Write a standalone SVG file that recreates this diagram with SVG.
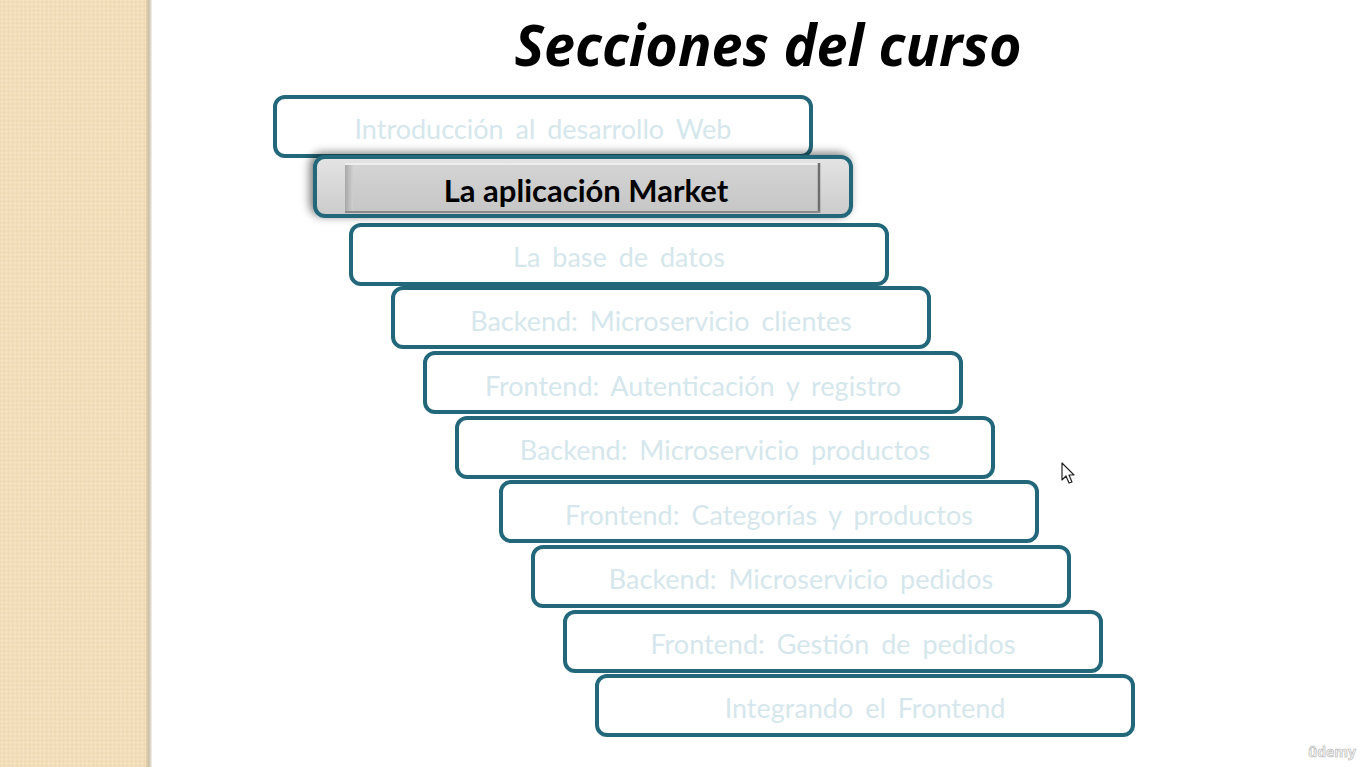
<svg xmlns="http://www.w3.org/2000/svg" width="1365" height="767" viewBox="0 0 1365 767">
<defs>
  <pattern id="chk" width="6" height="6" patternUnits="userSpaceOnUse" patternTransform="rotate(45)">
    <rect width="6" height="6" fill="#f5e2c1"/>
    <rect width="3" height="3" fill="#f0dab4"/>
    <rect x="3" y="3" width="3" height="3" fill="#f0dab4"/>
  </pattern>
  <linearGradient id="edge" x1="0" y1="0" x2="1" y2="0">
    <stop offset="0" stop-color="#e6d2ad"/>
    <stop offset="0.5" stop-color="#c9c0a8"/>
    <stop offset="1" stop-color="#f4f2ee"/>
  </linearGradient>
  <linearGradient id="hlOuter" x1="0" y1="0" x2="0" y2="1">
    <stop offset="0" stop-color="#e4e4e4"/>
    <stop offset="1" stop-color="#cbcbcb"/>
  </linearGradient>
  <linearGradient id="hlInner" x1="0" y1="0" x2="0" y2="1">
    <stop offset="0" stop-color="#d4d4d4"/>
    <stop offset="1" stop-color="#c6c6c6"/>
  </linearGradient>
  <linearGradient id="bevelL" x1="0" y1="0" x2="1" y2="0">
    <stop offset="0" stop-color="#a8a8a8"/>
    <stop offset="1" stop-color="#cfcfcf"/>
  </linearGradient>
  <filter id="shadow" x="-10%" y="-40%" width="120%" height="180%">
    <feDropShadow dx="-3" dy="-2" stdDeviation="5" flood-color="#000" flood-opacity="0.55"/>
  </filter>
  <style>
    .box { fill: #ffffff; stroke: #22677a; stroke-width: 4; }
    .lbl { font-family: Lato, "Open Sans", "Liberation Sans", sans-serif; font-size: 27px; fill: #d5e7ec; text-anchor: middle; word-spacing: 5px; }
    .title { font-family: "Open Sans", "Liberation Sans", sans-serif; font-weight: bold; font-style: italic; font-size: 58px; fill: #000; text-anchor: middle; }
    .hl { font-family: Lato, "Open Sans", "Liberation Sans", sans-serif; font-weight: bold; font-size: 31px; fill: #000; text-anchor: middle; }
  </style>
</defs>

<!-- background -->
<rect x="0" y="0" width="1365" height="767" fill="#ffffff"/>
<rect x="0" y="0" width="149" height="767" fill="url(#chk)"/>
<rect x="146" y="0" width="6" height="767" fill="url(#edge)"/>

<!-- title -->
<text class="title" x="768" y="66" textLength="507" lengthAdjust="spacingAndGlyphs">Secciones del curso</text>

<g id="nodes">
  <g id="n1"><rect class="box" x="275" y="97" width="536" height="59" rx="10"/><text class="lbl" x="543" y="139">Introducción al desarrollo Web</text></g>
  <g id="n3"><rect class="box" x="351" y="225" width="536" height="59" rx="10"/><text class="lbl" x="619" y="267">La base de datos</text></g>
  <g id="n4"><rect class="box" x="393" y="288" width="536" height="59" rx="10"/><text class="lbl" x="661" y="331">Backend: Microservicio clientes</text></g>
  <g id="n5"><rect class="box" x="425" y="353" width="536" height="59" rx="10"/><text class="lbl" x="693" y="396">Frontend: Autenticación y registro</text></g>
  <g id="n6"><rect class="box" x="457" y="418" width="536" height="59" rx="10"/><text class="lbl" x="725" y="460">Backend: Microservicio productos</text></g>
  <g id="n7"><rect class="box" x="501" y="482" width="536" height="59" rx="10"/><text class="lbl" x="769" y="525">Frontend: Categorías y productos</text></g>
  <g id="n8"><rect class="box" x="533" y="547" width="536" height="59" rx="10"/><text class="lbl" x="801" y="589">Backend: Microservicio pedidos</text></g>
  <g id="n9"><rect class="box" x="565" y="612" width="536" height="59" rx="10"/><text class="lbl" x="833" y="654">Frontend: Gestión de pedidos</text></g>
  <g id="n10"><rect class="box" x="597" y="676" width="536" height="59" rx="10"/><text class="lbl" x="865" y="718">Integrando el Frontend</text></g>
  <g id="n2">
    <rect x="315" y="157" width="536" height="59" rx="10" fill="url(#hlOuter)" stroke="#22677a" stroke-width="4" filter="url(#shadow)"/>
    <rect x="345" y="163" width="475" height="50" fill="url(#hlInner)"/>
    <rect x="345" y="163" width="8" height="50" fill="url(#bevelL)"/>
    <line x1="345" y1="164" x2="820" y2="164" stroke="#ededed" stroke-width="2"/>
    <line x1="819" y1="163" x2="819" y2="213" stroke="#6e6e6e" stroke-width="2.5"/>
    <line x1="345" y1="212" x2="820" y2="212" stroke="#8a8a8a" stroke-width="2"/>
    <text class="hl" x="586" y="202">La aplicación Market</text>
  </g>
</g>

<g id="connectors"></g>

<!-- mouse cursor -->
<path d="M1062,463 L1062,480 L1066,476 L1069,483 L1072,482 L1069,475 L1074,475 Z" fill="#ffffff" stroke="#222" stroke-width="1.2" stroke-linejoin="round"/>

<!-- watermark -->
<text x="1332" y="757" font-family="'Open Sans', 'Liberation Sans', sans-serif" font-size="14" font-weight="bold" fill="#f2f2f2" stroke="#b5b5b5" stroke-width="0.6" text-anchor="middle">ûdemy</text>
</svg>
